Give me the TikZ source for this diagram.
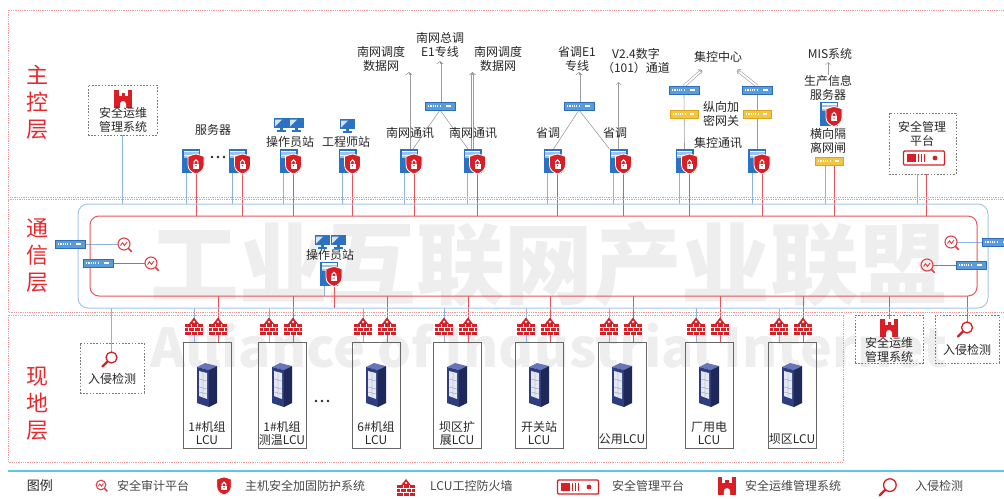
\documentclass[tikz,border=0pt]{standalone}
\usepackage{fontspec}
\setmainfont{Noto Sans CJK SC}
\usetikzlibrary{arrows.meta,calc}
\pgfdeclarelayer{wm}
\pgfdeclarelayer{bg}
\pgfsetlayers{wm,bg,main}

\definecolor{layerred}{HTML}{E8282D}
\definecolor{ringred}{HTML}{E9545A}
\definecolor{ringblue}{HTML}{A7C4EA}
\definecolor{linkblue}{HTML}{8DB3E6}
\definecolor{devblue}{HTML}{2C72C2}
\definecolor{devlight}{HTML}{9CC2EE}
\definecolor{rtblue}{HTML}{5A9BDC}
\definecolor{rtdark}{HTML}{2F6DB8}
\definecolor{iconred}{HTML}{D91E26}
\definecolor{encyellow}{HTML}{F4C542}
\definecolor{encdark}{HTML}{DDA51C}
\definecolor{navy}{HTML}{2E3D80}
\definecolor{navydark}{HTML}{1E2859}
\definecolor{navytop}{HTML}{6676B8}
\definecolor{panel}{HTML}{E4E7F0}
\definecolor{ductgray}{HTML}{9C9C9C}
\definecolor{txt}{HTML}{262626}
\definecolor{zonered}{HTML}{EE9A9A}
\definecolor{boxgray}{HTML}{7A7A7A}
\definecolor{legendcyan}{HTML}{5CC6E8}
\definecolor{wmgray}{HTML}{EEEEEE}

\tikzset{
  lbl/.style={font=\fontsize{12}{14}\selectfont, text=txt, align=center, inner sep=0pt},
  lcutxt/.style={font=\fontsize{12}{13}\selectfont, text=txt, align=center, inner sep=0pt},
  layer/.style={font=\fontsize{22}{27}\selectfont, text=layerred, align=center, inner sep=0pt},
  legtxt/.style={font=\fontsize{12}{14}\selectfont, text=txt!85, anchor=west, inner sep=0pt},
  zone/.style={draw=zonered, densely dotted, line width=0.8pt},
  dbox/.style={draw=boxgray, dash pattern=on 1.6pt off 1.6pt, line width=0.8pt, inner sep=0pt, outer sep=0pt},
  lcubox/.style={draw=black!60, line width=0.8pt, minimum width=48pt, minimum height=106pt, inner sep=0pt, outer sep=0pt},
  blueln/.style={draw=linkblue, line width=0.9pt},
  redln/.style={draw=ringred, line width=0.9pt},
  grayln/.style={draw=ductgray, line width=0.6pt},
  graytip/.style={draw=ductgray, line width=0.6pt, -{Straight Barb[length=2.6pt,width=6.5pt]}},
  grayarr/.style={draw=ductgray, line width=0.5pt, -{Straight Barb[length=2.5pt,width=5pt]}},
  duct/.style={draw=ductgray, line width=0.6pt, double=white, double distance=1.8pt, shorten >=0.8pt},
  % host security shield with lock
  pics/shieldicon/.style={code={
    \path[fill=iconred, draw=white, line width=0.8pt]
      (-8,-7.5) -- (-4,-9) -- (0,-10) -- (4,-9) -- (8,-7.5) -- (8,1)
      .. controls (8,6) and (4,8.5) .. (0,10)
      .. controls (-4,8.5) and (-8,6) .. (-8,1) -- cycle;
    \fill[white] (-3,-0.5) rectangle (3,4.5);
    \draw[white, line width=1.1pt] (-1.9,-0.5) -- (-1.9,-2.3)
      arc[start angle=180, end angle=360, radius=1.9] -- (1.9,-0.5);
    \fill[iconred] (0,1.6) circle (0.8);
  }},
  % server with shield
  pics/server/.style={code={
    \fill[devblue] (-9,-12) rectangle (9,12);
    \fill[devlight] (-7.5,-10.5) rectangle (7.5,-3);
    \fill[white] (-7.5,-10.5) rectangle (7.5,-8.8);
    \fill[white] (-7.5,-6.4) rectangle (7.5,-4.7);
    \pic at (5,3) {shieldicon};
    \coordinate (-top) at (0,-12);
    \coordinate (-bl) at (-5,12);
    \coordinate (-rd) at (5,13);
  }},
  pics/monitor/.style={code={
    \fill[devblue] (-7.5,-6) rectangle (7.5,4);
    \fill[white!80!devblue] (-6,-4.5) -- (1,-4.5) -- (-6,2.5) -- cycle;
    \fill[devblue] (-1.5,4) rectangle (1.5,6);
    \fill[devblue] (-4.5,6) rectangle (4.5,7.5);
  }},
  pics/router/.style={code={
    \fill[rtblue] (-15,-4) rectangle (15,4);
    \draw[rtdark, line width=0.6pt] (-15,-4) rectangle (15,4);
    \foreach \i in {0,...,5} \fill[white] ({-12+2.3*\i},-0.8) rectangle ++(1.2,1.6);
    \fill[white] (6,-1.3) rectangle (11,1.3);
    \coordinate (-n) at (0,-4);
    \coordinate (-s) at (0,4);
    \coordinate (-e) at (15,0);
    \coordinate (-w) at (-15,0);
  }},
  pics/encryptor/.style={code={
    \fill[encyellow] (-14,-4) rectangle (14,4);
    \draw[encdark, line width=0.6pt] (-14,-4) rectangle (14,4);
    \foreach \i in {0,...,5} \fill[white] ({-11+2.3*\i},-0.8) rectangle ++(1.2,1.6);
    \fill[white] (6,-1.3) rectangle (10,1.3);
    \coordinate (-n) at (0,-4);
    \coordinate (-s) at (0,4);
  }},
  pics/rack/.style={code={
    \fill[navytop] (-10,-18) -- (-2,-22) -- (10,-19) -- (2,-15) -- cycle;
    \fill[navy] (-10,-18) -- (2,-15) -- (2,22) -- (-10,18) -- cycle;
    \fill[navydark] (2,-15) -- (10,-19) -- (10,18) -- (2,22) -- cycle;
    \fill[panel] (-8,-14) -- (0,-12) -- (0,14) -- (-8,11) -- cycle;
    \draw[navy!55, line width=0.35pt] (-4,-13) -- (-4,12.5)
      (-8,-6) -- (0,-4) (-8,2) -- (0,4) (-8,7) -- (0,9);
  }},
  pics/firewall/.style={code={
    \fill[iconred] (-5,-2) -- (0,-8.5) -- (5,-2) -- cycle;
    \fill[white] (0,-4.2) circle (1.3);
    \fill[iconred] (-9,-2) rectangle (9,9);
    \draw[white, line width=0.7pt] (-9,1.7) -- (9,1.7) (-9,5.4) -- (9,5.4)
      (-3,-2) -- (-3,1.7) (3,-2) -- (3,1.7)
      (-6,1.7) -- (-6,5.4) (0,1.7) -- (0,5.4) (6,1.7) -- (6,5.4)
      (-3,5.4) -- (-3,9) (3,5.4) -- (3,9);
    \coordinate (-c) at (0,0);
  }},
  pics/audit/.style={code={
    \draw[iconred!85, line width=1.1pt] (0,0) circle (6);
    \draw[iconred!85, line width=0.9pt] (-3.5,1.5) -- (-1.5,-1.2) -- (0.5,1.5) -- (3,-2);
    \draw[iconred!85, line width=1.6pt, line cap=round] (4.4,4.4) -- (7.5,7.5);
    \coordinate (-w) at (-6,0);
    \coordinate (-e) at (6,0);
  }},
  pics/magnifier/.style={code={
    \draw[iconred, line width=1.3pt] (2.5,-2.5) circle (5.5);
    \draw[iconred, line width=2.2pt, line cap=round] (-1.4,1.4) -- (-6.5,6.5);
    \coordinate (-top) at (2.5,-8);
  }},
  pics/castle/.style={code={
    \fill[iconred] (-9,-9) rectangle (-4.5,9);
    \fill[iconred] (4.5,-9) rectangle (9,9);
    \fill[iconred] (-4.5,-3) rectangle (4.5,9);
    \fill[iconred] (-1.5,-6) rectangle (1.5,-3);
    \fill[white] (-3,9) -- (-3,5) arc[start angle=180, end angle=360, radius=3] -- (3,9) -- cycle;
    \coordinate (-top) at (0,-9);
  }},
  pics/platform/.style={code={
    \draw[iconred, line width=1.4pt, rounded corners=1pt] (-20.5,-7) rectangle (20.5,7);
    \fill[iconred] (-17,-4) rectangle (-8.5,4);
    \foreach \x in {-6.5,-3.5,-0.5} \fill[iconred] (\x,-4) rectangle ++(1.8,8);
    \fill[iconred] (11,0) circle (2.4);
  }},
}

% one field control unit: name, left x, label centre y, label
\newcommand\lcu[4]{%
  \node[lcubox, anchor=north west] (lcu#1) at (#2,342) {};
  \pic at ({#2+24},385) {rack};
  \node[lcutxt] (lcu#1t) at ({#2+24},#3) {#4};
  \pic (fwb#1) at ({#2+11},326) {firewall};
  \pic (fwr#1) at ({#2+35},326) {firewall};
}
% double-walled uplink with an open chevron at its far end
\newcommand\uplink[2]{%
  \draw[duct] (#1) -- (#2);
  \draw[graytip] ($(#2)!3pt!(#1)$) -- (#2);
}

\begin{document}
\begin{tikzpicture}[x=1pt,y=-1pt]
\useasboundingbox (0,0) rectangle (1004,498);

% ---- background lettering
\begin{pgfonlayer}{wm}
  \node[text=wmgray, inner sep=0pt] (wmcn) at (549,264)
    {\resizebox{797pt}{!}{\bfseries 工业互联网产业联盟}};
  \node[text=wmgray, inner sep=0pt] (wmen) at (549,346)
    {\resizebox{797pt}{!}{\bfseries Alliance of Industrial Internet}};
\end{pgfonlayer}

% ---- zones
\draw[zone] (8,10) rectangle (1010,197);
\draw[zone] (8,199.5) rectangle (1010,312);
\draw[zone] (8,315) rectangle (843,462);

\node[layer] (lyTop) at (38,102) {主\\控\\层};
\node[layer] (lyMid) at (38,256) {通\\信\\层};
\node[layer] (lyBot) at (38,404) {现\\地\\层};

% ---- communication rings
\node[draw=ringblue, line width=1pt, rounded corners=10pt, minimum width=910pt,
      minimum height=104pt, inner sep=0pt, outer sep=0pt] (ringB) at (533,256) {};
\node[draw=ringred, line width=1pt, rounded corners=9pt, minimum width=887pt,
      minimum height=80pt, inner sep=0pt, outer sep=0pt] (ringR) at (533.5,256) {};

% ---- control layer
\node[dbox, minimum width=69pt, minimum height=50pt] (opsTop) at (122.5,110) {};
\pic (opsTopIcon) at (123,99) {castle};
\node[lbl] (opsTopTxt) at (123,120) {安全运维\\管理系统};

\node[lbl] (tSrv) at (213,130) {服务器};
\pic (svA) at (191,161) {server};
\pic (svB) at (237.5,161) {server};
\foreach \dx in {212,218,224} \fill[txt] (\dx,157) circle (1.3);

\pic at (281,124) {monitor};
\pic at (296,124) {monitor};
\node[lbl] (tOp) at (290,142) {操作员站};
\pic (svOp) at (288.5,161) {server};

\pic at (347,125) {monitor};
\node[lbl] (tEng) at (346,142) {工程师站};
\pic (svEng) at (347.5,161) {server};

\node[lbl] (tNWnetA) at (381,59) {南网调度\\数据网};
\node[lbl] (tNWe1) at (440,45) {南网总调\\E1专线};
\node[lbl] (tNWnetB) at (498,59) {南网调度\\数据网};
\pic (rtNW) at (440,106) {router};
\node[lbl] (tNWa) at (410,133) {南网通讯};
\node[lbl] (tNWb) at (473,133) {南网通讯};
\pic (svNWa) at (409,161) {server};
\pic (svNWb) at (472.5,161) {server};

\node[lbl] (tSDe1) at (577,58.5) {省调E1\\专线};
\node[lbl] (tV24) at (636,60.5) {V2.4数字\\（101）通道};
\pic (rtSD) at (579,106) {router};
\node[lbl] (tSDa) at (548,133) {省调};
\node[lbl] (tSDb) at (615,133) {省调};
\pic (svSDa) at (552.5,161) {server};
\pic (svSDb) at (618.5,161) {server};

\node[lbl] (tJKc) at (718,57) {集控中心};
\pic (rtJKa) at (684,90) {router};
\pic (rtJKb) at (757,90) {router};
\pic (enJKa) at (684,114) {encryptor};
\pic (enJKb) at (757,114) {encryptor};
\node[lbl] (tVEG) at (721,113.5) {纵向加\\密网关};
\node[lbl] (tJK) at (718,143) {集控通讯};
\pic (svJKa) at (684.5,161) {server};
\pic (svJKb) at (757,161) {server};

\node[lbl] (tMIS) at (830,54) {MIS系统};
\node[lbl] (tMISsrv) at (828,88) {生产信息\\服务器};
\pic (svMIS) at (829,113.5) {server};
\node[lbl] (tGate) at (828,141) {横向隔\\离网闸};
\pic (gtMIS) at (829,161) {encryptor};

\node[dbox, minimum width=67pt, minimum height=61pt] (secTop) at (922.5,143.5) {};
\node[lbl] (secTopTxt) at (922,134) {安全管理\\平台};
\pic (secIcon) at (924,158) {platform};

% ---- communication layer
\pic (swL1) at (70,244) {router};
\pic (auL1) at (124,244) {audit};
\pic (swL2) at (98,263) {router};
\pic (auL2) at (151,263) {audit};
\pic (auR1) at (951,242) {audit};
\pic (swR1) at (997,242) {router};
\pic (auR2) at (927,265) {audit};
\pic (swR2) at (971,265) {router};

\pic at (322,241) {monitor};
\pic at (338,241) {monitor};
\node[lbl] (tOpCom) at (330,255) {操作员站};
\pic (svCom) at (329,273.5) {server};

% ---- field layer
\lcu{A}{183}{433}{1\#机组\\LCU}
\lcu{B}{258}{433}{1\#机组\\测温LCU}
\lcu{C}{352}{433}{6\#机组\\LCU}
\lcu{D}{433}{433}{坝区扩\\展LCU}
\lcu{E}{515}{433}{开关站\\LCU}
\lcu{F}{598}{439}{公用LCU}
\lcu{G}{685}{433}{厂用电\\LCU}
\lcu{H}{768}{439}{坝区LCU}
\foreach \dx in {316,322,328} \fill[txt] (\dx,401) circle (1.3);

\node[dbox, minimum width=64pt, minimum height=50pt] (idsL) at (112,368) {};
\pic (idsLIcon) at (109,360) {magnifier};
\node[lbl] (idsLTxt) at (112,379) {入侵检测};

\node[dbox, minimum width=68pt, minimum height=48pt] (opsBot) at (889,339) {};
\pic (opsBotIcon) at (889,328) {castle};
\node[lbl] (opsBotTxt) at (889,350) {安全运维\\管理系统};

\node[dbox, minimum width=64pt, minimum height=48pt] (idsR) at (967,339) {};
\pic (idsRIcon) at (964.5,330) {magnifier};
\node[lbl] (idsRTxt) at (967,350) {入侵检测};

% ---- connectors
\coordinate (upNWa) at (409,72);
\coordinate (upNWe1) at (440,61);
\coordinate (upNWb) at (472.5,72);
\coordinate (upSD) at (579,72);
\coordinate (upV24) at (618.5,82);
\coordinate (upJKa) at (702,70);
\coordinate (upJKb) at (737,70);
\coordinate (upMIS) at (828,62);
\begin{pgfonlayer}{bg}
  \uplink{svNWa-top}{upNWa}
  \uplink{rtNW-n}{upNWe1}
  \uplink{svNWb-top}{upNWb}
  \draw[grayln] (rtNW-s) -- ([xshift=4]svNWa-top);
  \draw[grayln] (rtNW-s) -- ([xshift=-4.5]svNWb-top);
  \uplink{rtSD-n}{upSD}
  \draw[grayln] (rtSD-s) -- ([xshift=1]svSDa-top);
  \draw[grayln] (rtSD-s) -- ([xshift=-9]svSDb-top);
  \draw[grayarr] (svSDb-top) -- (upV24);
  \uplink{rtJKa-n}{upJKa}
  \uplink{rtJKb-n}{upJKb}
  \draw[grayln] (rtJKa-s) -- (svJKa-top);
  \draw[grayln] (rtJKb-s) -- (svJKb-top);
  \draw[grayarr] (tMISsrv.north) -- (upMIS);

  \draw[blueln] (opsTop.south) -- (opsTop.south |- ringB.north);
  \foreach \s in {svA,svB,svOp,svEng,svNWa,svNWb,svSDa,svSDb,svJKa,svJKb}{
    \draw[blueln] (\s-bl) -- (\s-bl |- ringB.north);
    \draw[redln] (\s-rd) -- (\s-rd |- ringR.north);
  }
  \draw[blueln] ([xshift=-4]gtMIS-s) -- ([xshift=-4]gtMIS-s |- ringB.north);
  \draw[redln] ([xshift=5]gtMIS-s) -- ([xshift=5]gtMIS-s |- ringR.north);
  \draw[blueln] ([xshift=-5.5]secTop.south) -- ([xshift=-5.5]secTop.south |- ringB.north);
  \draw[redln] ([xshift=3.5]secTop.south) -- ([xshift=3.5]secTop.south |- ringR.north);

  \draw[blueln] (swL1-e) -- (auL1-w);
  \draw[redln] (swL2-e) -- (auL2-w);
  \draw[blueln] (auR1-e) -- (swR1-w);
  \draw[redln] (auR2-e) -- (swR2-w);
  \draw[blueln] (svCom-bl) -- (svCom-bl |- ringR.south);
  \draw[redln] (svCom-rd) -- (svCom-rd |- ringB.south);

  \foreach \n in {A,B,C,D,E,F,G,H}{
    \draw[blueln] (fwb\n-c |- ringB.south) -- (fwb\n-c |- lcu\n.north);
    \draw[redln] (fwr\n-c |- ringR.south) -- (fwr\n-c |- lcu\n.north);
  }
  \draw[blueln] (idsLIcon-top |- ringB.south) -- (idsLIcon-top);
  \draw[redln] (opsBotIcon-top |- ringR.south) -- (opsBotIcon-top);
  \draw[redln] (idsRIcon-top |- ringR.south) -- (idsRIcon-top);
\end{pgfonlayer}

% ---- legend
\coordinate (lgL) at (8,471);
\coordinate (lgR) at (1004,471);
\draw[legendcyan, line width=1.2pt] (lgL) -- (lgR);
\node[font=\fontsize{13}{14}\selectfont, text=txt, inner sep=0pt] (lgTitle) at (40,486) {图例};
\pic[scale=0.8] at (101,485) {audit};
\node[legtxt] (lg1) at (117,486) {安全审计平台};
\pic[scale=0.9] at (224,486) {shieldicon};
\node[legtxt] (lg2) at (245,486) {主机安全加固防护系统};
\pic[scale=0.95] at (406,487) {firewall};
\node[legtxt] (lg3) at (430,486) {LCU工控防火墙};
\pic at (578,487) {platform};
\node[legtxt] (lg4) at (612,486) {安全管理平台};
\pic[scale=1.05] at (727,486) {castle};
\node[legtxt] (lg5) at (745,486) {安全运维管理系统};
\pic[scale=1.15] at (887,488) {magnifier};
\node[legtxt] (lg6) at (915,486) {入侵检测};
\end{tikzpicture}
\end{document}
